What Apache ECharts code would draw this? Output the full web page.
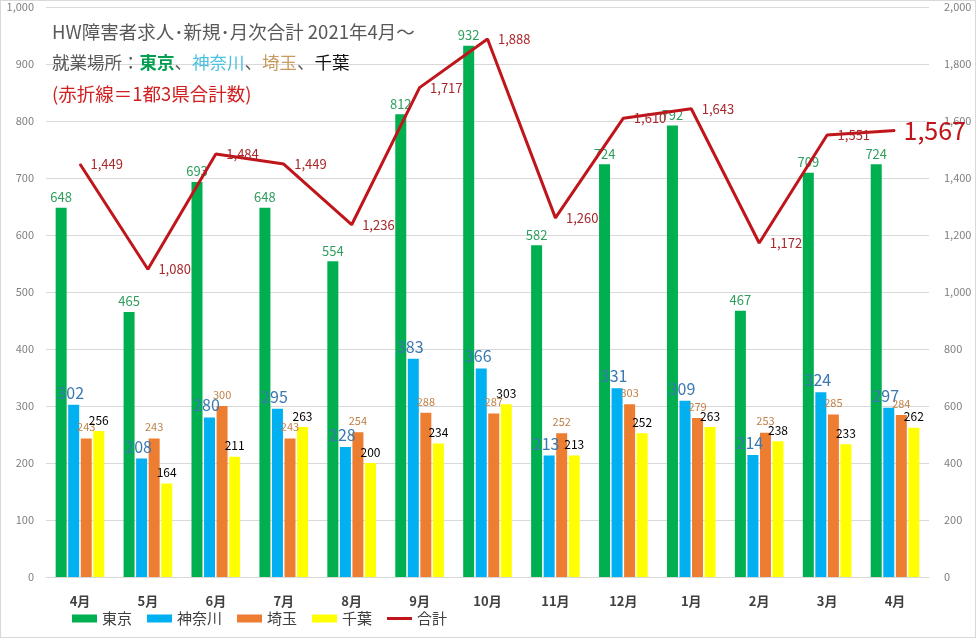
<!DOCTYPE html>
<html>
<head>
<meta charset="utf-8">
<script src="https://cdn.jsdelivr.net/npm/echarts@6/dist/echarts.min.js"></script>
<style>
html,body{margin:0;padding:0;background:#fff;}
#chart{width:976px;height:638px;box-sizing:border-box;border:1px solid #d9d9d9;}
</style>
</head>
<body>
<div id="chart"></div>
<script>
const months = ['4月','5月','6月','7月','8月','9月','10月','11月','12月','1月','2月','3月','4月'];
const tokyo    = [648, 465, 693, 648, 554, 812, 932, 582, 724, 792, 467, 709, 724];
const kanagawa = [302, 208, 280, 295, 228, 383, 366, 213, 331, 309, 214, 324, 297];
const saitama  = [243, 243, 300, 243, 254, 288, 287, 252, 303, 279, 253, 285, 284];
const chiba    = [256, 164, 211, 263, 200, 234, 303, 213, 252, 263, 238, 233, 262];
const totals   = [1449, 1080, 1484, 1449, 1236, 1717, 1888, 1260, 1610, 1643, 1172, 1551, 1567];
const leftTicks = [0, 1000, 100];
const rightTicks = [0, 2000, 200];

const FONT = '"Noto Sans CJK JP","Noto Sans",sans-serif';
const fmt = v => Number(v).toLocaleString('en-US');

const chart = echarts.init(document.getElementById('chart'), null, {renderer:'canvas'});

const barCommon = {
  type: 'bar',
  barWidth: 11,
  barGap: '14%',
  yAxisIndex: 0
};

const lastIdx = totals.length - 1;
const totalData = totals.map((v, i) => i === lastIdx
  ? {value: v, label: {fontSize: 25, color: '#C0161B', distance: 8}}
  : v);

const rs = (color, size, bold) => ({fontSize: size, color: color, fontWeight: bold ? 'bold' : 'normal', lineHeight: 31, fontFamily: FONT});

chart.setOption({
  animation: false,
  textStyle: {fontFamily: FONT},
  title: {
    left: 46,
    top: 10,
    text: '{h|HW障害者求人･新規･月次合計 2021年4月～}\n{t|就業場所：}{g|東京}{t|、}{b|神奈川}{t|、}{o|埼玉}{t|、}{k|千葉}\n{r|(赤折線＝1都3県合計数)}',
    textStyle: {
      fontFamily: FONT,
      fontWeight: 'normal',
      rich: {
        h: rs('#595959', 18.5),
        t: rs('#595959', 17.5),
        g: rs('#00A050', 17.5, true),
        b: rs('#4BC0E0', 17.5),
        o: rs('#C89A60', 17.5),
        k: rs('#111111', 17.5),
        r: rs('#D02020', 18.5)
      }
    }
  },
  legend: {
    left: 66,
    bottom: 6,
    itemWidth: 25,
    itemHeight: 8,
    itemGap: 15,
    textStyle: {fontSize: 15, color: '#404040', fontFamily: FONT},
    data: [
      {name: '東京', icon: 'rect'},
      {name: '神奈川', icon: 'rect'},
      {name: '埼玉', icon: 'rect'},
      {name: '千葉', icon: 'rect'},
      {name: '合計', icon: 'path://M0,0 L25,0 L25,3 L0,3 Z', itemStyle: {color: '#C0161B'}}
    ]
  },
  grid: {left: 45, right: 46, top: 6, bottom: 60, containLabel: false},
  xAxis: {
    type: 'category',
    data: months,
    axisTick: {show: false},
    axisLine: {lineStyle: {color: '#d9d9d9'}},
    axisLabel: {fontSize: 13, fontWeight: 'bold', color: '#404040', margin: 18, interval: 0}
  },
  yAxis: [
    {
      type: 'value', min: leftTicks[0], max: leftTicks[1], interval: leftTicks[2],
      axisLine: {show: false}, axisTick: {show: false},
      splitLine: {lineStyle: {color: '#d9d9d9'}},
      axisLabel: {fontSize: 11, color: '#7f7f7f', margin: 12, formatter: fmt}
    },
    {
      type: 'value', min: rightTicks[0], max: rightTicks[1], interval: rightTicks[2],
      axisLine: {show: false}, axisTick: {show: false},
      splitLine: {show: false},
      axisLabel: {fontSize: 11, color: '#7f7f7f', margin: 15, formatter: fmt}
    }
  ],
  series: [
    Object.assign({}, barCommon, {
      name: '東京', data: tokyo, itemStyle: {color: '#00B050'},
      label: {show: true, position: 'top', distance: 4, fontSize: 13, color: '#2E9E5E'}
    }),
    Object.assign({}, barCommon, {
      name: '神奈川', data: kanagawa, itemStyle: {color: '#00B0F0'},
      label: {show: true, position: 'top', distance: 4, fontSize: 16, color: '#3A78B0', offset: [-3, 0]}
    }),
    Object.assign({}, barCommon, {
      name: '埼玉', data: saitama, itemStyle: {color: '#ED7D31'},
      label: {show: true, position: 'top', distance: 6, fontSize: 11, color: '#C0804A'}
    }),
    Object.assign({}, barCommon, {
      name: '千葉', data: chiba, itemStyle: {color: '#FFFF00'},
      label: {show: true, position: 'top', distance: 5, fontSize: 12, color: '#000000'}
    }),
    {
      name: '合計', type: 'line', yAxisIndex: 1, data: totalData,
      symbol: 'circle', symbolSize: 1, showSymbol: true, z: 5,
      lineStyle: {color: '#C0161B', width: 3},
      itemStyle: {color: '#C0161B'},
      label: {show: true, position: 'right', distance: 10, fontSize: 13, color: '#A8282C', formatter: p => fmt(p.value)}
    }
  ]
});
</script>
</body>
</html>
